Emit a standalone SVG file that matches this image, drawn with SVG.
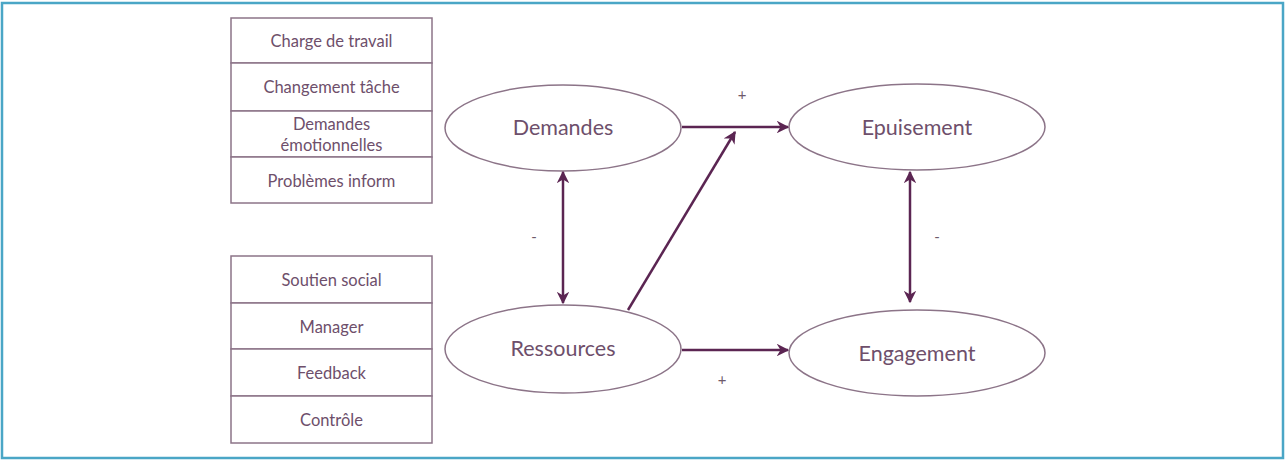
<svg xmlns="http://www.w3.org/2000/svg" width="1285" height="460" viewBox="0 0 1285 460">
<style>
.frame{fill:#fff;stroke:#4aa6c6;stroke-width:2.5}
.box{fill:#fff;stroke:#8c7488;stroke-width:1.5}
.bt{font-family:Lato,"Open Sans",sans-serif;font-size:16.5px;fill:#6e4f6b;text-anchor:middle}
.ell{fill:#fff;stroke:#8c7488;stroke-width:1.5}
.et{font-family:Lato,"Open Sans",sans-serif;font-size:21.5px;fill:#6e4f6b;text-anchor:middle}
.conn{stroke:#5b2552;stroke-width:2.5;fill:none}
.lbl{font-family:Lato,"Open Sans",sans-serif;font-size:15px;fill:#6e5a6b;text-anchor:middle}
</style>
<defs>
<marker id="ah" viewBox="0 0 10 10" refX="9" refY="5" markerWidth="5" markerHeight="5" orient="auto-start-reverse" markerUnits="strokeWidth">
<path d="M0,0 L10,5 L0,10 L3,5 z" fill="#5b2552"/>
</marker>
</defs>
<rect class="frame" x="2" y="3" width="1281" height="455"/>
<g id="demandes-list">
<rect class="box" x="231" y="18" width="201" height="45"/>
<text class="bt" x="331.5" y="47">Charge de travail</text>
<rect class="box" x="231" y="63" width="201" height="48"/>
<text class="bt" x="331.5" y="93">Changement tâche</text>
<rect class="box" x="231" y="111" width="201" height="46"/>
<text class="bt" x="331.5" y="130">Demandes</text>
<text class="bt" x="331.5" y="151">émotionnelles</text>
<rect class="box" x="231" y="157" width="201" height="46"/>
<text class="bt" x="331.5" y="187">Problèmes inform</text>
</g>
<g id="ressources-list">
<rect class="box" x="231" y="256" width="201" height="47"/>
<text class="bt" x="331.5" y="286">Soutien social</text>
<rect class="box" x="231" y="303" width="201" height="46"/>
<text class="bt" x="331.5" y="333">Manager</text>
<rect class="box" x="231" y="349" width="201" height="47"/>
<text class="bt" x="331.5" y="379">Feedback</text>
<rect class="box" x="231" y="396" width="201" height="47"/>
<text class="bt" x="331.5" y="426">Contrôle</text>
</g>
<g id="node-demandes">
<ellipse class="ell" cx="563" cy="128" rx="118" ry="43"/>
<text class="et" x="563" y="135">Demandes</text>
</g>
<g id="node-ressources">
<ellipse class="ell" cx="563" cy="349" rx="118" ry="44"/>
<text class="et" x="563" y="356">Ressources</text>
</g>
<g id="node-epuisement">
<ellipse class="ell" cx="917" cy="127" rx="128" ry="43"/>
<text class="et" x="917" y="135">Epuisement</text>
</g>
<g id="node-engagement">
<ellipse class="ell" cx="917" cy="353" rx="128" ry="43"/>
<text class="et" x="917" y="361">Engagement</text>
</g>
<g id="connectors">
<line class="conn" x1="682" y1="127" x2="788" y2="127" marker-end="url(#ah)"/>
<line class="conn" x1="682" y1="350" x2="788" y2="350" marker-end="url(#ah)"/>
<line class="conn" x1="563" y1="172" x2="563" y2="303" marker-start="url(#ah)" marker-end="url(#ah)"/>
<line class="conn" x1="910" y1="172" x2="910" y2="302" marker-start="url(#ah)" marker-end="url(#ah)"/>
<line class="conn" x1="628" y1="310" x2="735" y2="132" marker-end="url(#ah)"/>
</g>
<g id="labels">
<text class="lbl" x="742" y="100">+</text>
<text class="lbl" x="534" y="242">-</text>
<text class="lbl" x="722" y="385">+</text>
<text class="lbl" x="937" y="242">-</text>
</g>
</svg>
